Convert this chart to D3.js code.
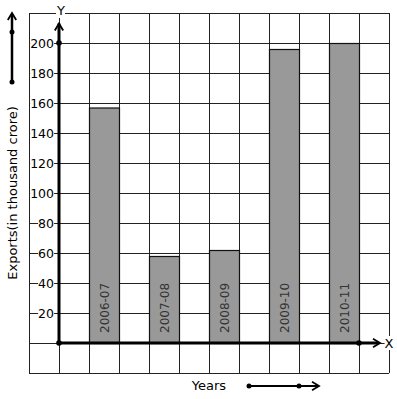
<!DOCTYPE html>
<html lang="en">
<head>
<meta charset="UTF-8">
<title>Exports bar chart</title>
<script src="https://d3js.org/d3.v7.min.js"></script>
<style>
    body { margin: 0; background: #fff; }
    svg { display: block; font-family: 'DejaVu Sans', sans-serif; }
</style>
</head>
<body>
<div id="chart"></div>
<script>
const years = ["2006-07", "2007-08", "2008-09", "2009-10", "2010-11"];
const exportsValues = [157, 58, 62, 196, 200];
const yTicks = [20, 40, 60, 80, 100, 120, 140, 160, 180, 200];

const W = 397, H = 399;
const svg = d3.select("#chart").append("svg").attr("width", W).attr("height", H);

// grid units: one cell = 20 crore vertically, one column horizontally
const y = d3.scaleLinear().domain([-20, 220]).range([373, 13]);
const gx = d3.scaleLinear().domain([-1, 11]).range([29, 389]);
const x = d3.scaleBand().domain(years).range([59, 389]).paddingInner(0.5).paddingOuter(0.5);

const grid = svg.append("g").attr("stroke", "#222").attr("stroke-width", 1);
d3.range(-20, 221, 20).forEach(v => {
    grid.append("line").attr("x1", gx(-1)).attr("x2", gx(11))
        .attr("y1", Math.round(y(v)) + 0.5).attr("y2", Math.round(y(v)) + 0.5);
});
d3.range(-1, 12).forEach(c => {
    grid.append("line").attr("y1", y(220)).attr("y2", y(-20))
        .attr("x1", Math.round(gx(c)) + 0.5).attr("x2", Math.round(gx(c)) + 0.5);
});

// bars
svg.selectAll(".bar").data(years).enter().append("rect")
    .attr("x", d => x(d) + 0.5)
    .attr("y", (d, i) => y(exportsValues[i]) + 0.5)
    .attr("width", x.bandwidth())
    .attr("height", (d, i) => y(0) - y(exportsValues[i]))
    .attr("fill", "#999")
    .attr("stroke", "#111")
    .attr("stroke-width", 1.2);

svg.selectAll(".blabel").data(years).enter().append("text")
    .attr("transform", d => `translate(${x(d) + x.bandwidth() / 2 + 5},${y(0) - 10}) rotate(-90)`)
    .attr("font-size", 12)
    .attr("fill", "#333")
    .text(d => d);

// text with a white box behind it, hiding the grid line
function boxedText(g, tx, ty, s, size, anchor, boxY, boxH) {
    const t = g.append("text").attr("x", tx).attr("y", ty)
        .attr("text-anchor", anchor).attr("font-size", size).text(s);
    const b = t.node().getBBox();
    g.insert("rect", () => t.node())
        .attr("x", b.x).attr("y", boxY).attr("width", b.width).attr("height", boxH)
        .attr("fill", "#fff");
}

const tl = svg.append("g");
yTicks.forEach(v => boxedText(tl, 54, y(v) + 5, v, 12.5, "end", y(v) - 4, 8));

const arrow = (g, tx, ty, dir) => {
    // open chevron pointing in dir: "up" or "right"
    const s = 7;
    const pts = dir === "up"
        ? [[tx - s * 0.6, ty + s], [tx, ty], [tx + s * 0.6, ty + s]]
        : [[tx - s, ty - s * 0.6], [tx, ty], [tx - s, ty + s * 0.6]];
    g.append("path").attr("d", d3.line()(pts)).attr("fill", "none")
        .attr("stroke", "#000").attr("stroke-width", 1.8);
};

// axes
const ax = svg.append("g");
ax.append("line").attr("x1", gx(0)).attr("x2", gx(0)).attr("y1", y(0)).attr("y2", y(213))
    .attr("stroke", "#000").attr("stroke-width", 3);
arrow(ax, gx(0), y(213), "up");
ax.append("line").attr("x1", gx(0)).attr("x2", 379).attr("y1", y(0)).attr("y2", y(0))
    .attr("stroke", "#000").attr("stroke-width", 3);
arrow(ax, 380, y(0), "right");
[[gx(0), y(0)], [gx(0), y(200)], [gx(10), y(0)]].forEach(p => {
    ax.append("circle").attr("cx", p[0]).attr("cy", p[1]).attr("r", 2.8).attr("fill", "#000");
});

// axis letters
const lg = svg.append("g");
boxedText(lg, 61, 15, "Y", 13, "middle", 8, 10);
boxedText(lg, 389, 348, "X", 13, "middle", 336, 14);

svg.append("text")
    .attr("transform", `translate(17,193) rotate(-90)`)
    .attr("text-anchor", "middle")
    .attr("font-size", 13)
    .text("Exports(in thousand crore)");

svg.append("text").attr("x", 209).attr("y", 390).attr("text-anchor", "middle")
    .attr("font-size", 13).text("Years");

// decorative direction arrows
const dec = svg.append("g");
dec.append("line").attr("x1", 12).attr("x2", 12).attr("y1", 82).attr("y2", 14).attr("stroke", "#000").attr("stroke-width", 2.5);
arrow(dec, 12, 13, "up");
[[12, 32], [12, 82], [249, 386], [299, 386]].forEach(p => {
    dec.append("circle").attr("cx", p[0]).attr("cy", p[1]).attr("r", 2.5).attr("fill", "#000");
});
dec.append("line").attr("x1", 249).attr("x2", 318).attr("y1", 386).attr("y2", 386).attr("stroke", "#000").attr("stroke-width", 2);
arrow(dec, 319, 386, "right");
</script>
</body>
</html>
